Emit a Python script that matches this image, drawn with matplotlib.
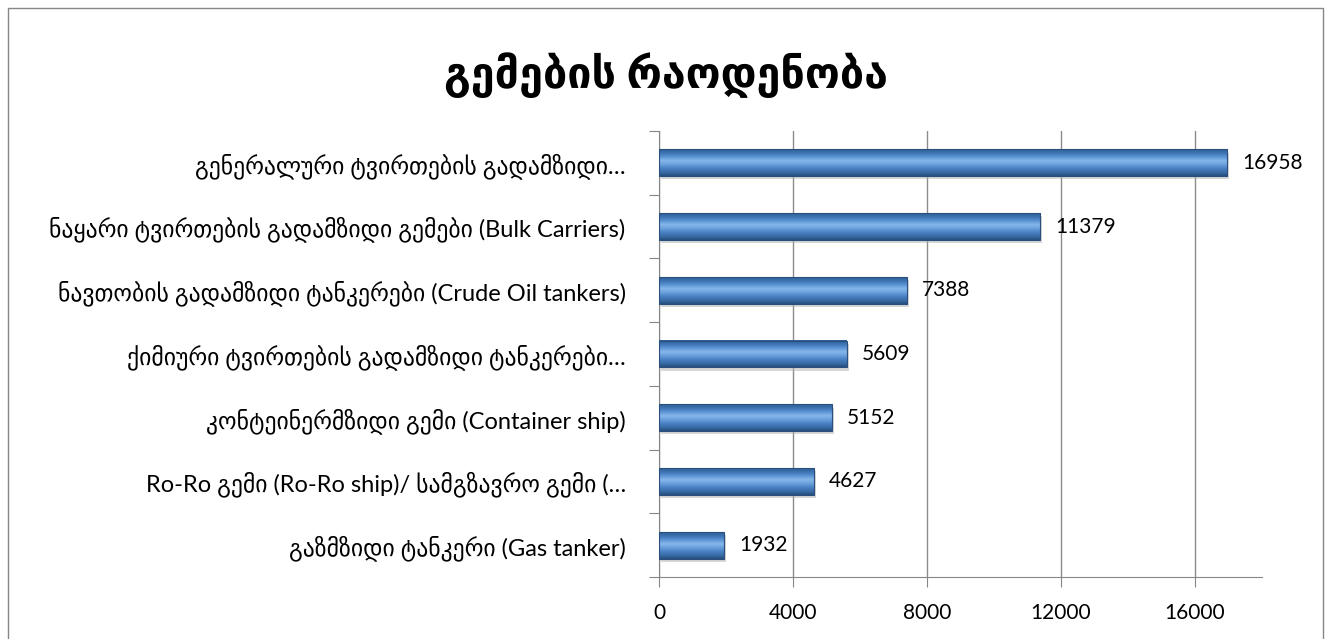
import numpy as np
import matplotlib
matplotlib.use("Agg")
import matplotlib.pyplot as plt
from matplotlib.colors import LinearSegmentedColormap
from matplotlib.patches import Rectangle

# Lato for latin text, DejaVu Sans picks up the Georgian glyphs
plt.rcParams['font.family'] = ['Lato', 'DejaVu Sans']

title = "გემების რაოდენობა"
categories = [
    "გენერალური ტვირთების გადამზიდი…",
    "ნაყარი ტვირთების გადამზიდი გემები (Bulk Carriers)",
    "ნავთობის გადამზიდი ტანკერები (Crude Oil tankers)",
    "ქიმიური ტვირთების გადამზიდი ტანკერები…",
    "კონტეინერმზიდი გემი (Container ship)",
    "Ro-Ro გემი (Ro-Ro ship)/ სამგზავრო გემი (…",
    "გაზმზიდი ტანკერი (Gas tanker)",
]
values = [16958, 11379, 7388, 5609, 5152, 4627, 1932]
xticks = [0, 4000, 8000, 12000, 16000]

fig = plt.figure(figsize=(13.31, 6.39), dpi=100)
ax = fig.add_axes([0.4951, 0.097, 0.4531, 0.698])

# vertical gradient to mimic the glossy 3D bars (top of image = top of bar)
bar_cmap = LinearSegmentedColormap.from_list(
    "glossy", ["#2f5f96", "#3e74b4", "#5b93d3", "#86b7ea", "#6aa0dc", "#4a82c4", "#3a6ea9", "#27507f"])
grad = np.linspace(0, 1, 64).reshape(-1, 1)

h = 0.42
n = len(categories)
ypos = np.arange(n)[::-1]
for y, v in zip(ypos, values):
    # shadow
    ax.add_patch(Rectangle((60, y - h / 2 - 0.05), v, h, color="#b0b0b0", alpha=0.5, lw=0, zorder=2))
    ax.imshow(grad, extent=[0, v, y - h / 2, y + h / 2], aspect='auto', cmap=bar_cmap,
              origin='upper', zorder=3, interpolation='bilinear')
    ax.add_patch(Rectangle((0, y - h / 2), v, h, fill=False, edgecolor="#2a4f7d", lw=0.8, zorder=4))
    ax.text(v + 450, y, str(v), va='center', ha='left', fontsize=15, color='black', zorder=5)

ax.set_xlim(0, 18000)
ax.set_ylim(-0.5, n - 0.5)
ax.set_xticks(xticks)
ax.set_xticklabels([str(t) for t in xticks], fontsize=15)
ax.set_yticks(np.arange(-0.5, n, 1.0))
ax.set_yticklabels([])
ax.set_yticks(ypos, minor=True)
ax.set_yticklabels(categories, minor=True, fontsize=17)
ax.tick_params(axis='y', which='minor', length=0, pad=24)
ax.tick_params(axis='y', which='major', length=7, color='#868686', direction='out')
ax.tick_params(axis='x', length=7, color='#868686', direction='out', pad=12)

ax.grid(axis='x', color='#8c8c8c', lw=1, zorder=0)
ax.set_axisbelow(True)
for s in ['top', 'right']:
    ax.spines[s].set_visible(False)
ax.spines['left'].set_color('#868686')
ax.spines['bottom'].set_color('#868686')

fig.text(0.5, 0.883, title, ha='center', va='center', fontsize=31, fontweight='bold')

# outer chart border
fig.add_artist(Rectangle((0.006, -0.01), 0.988, 0.997, transform=fig.transFigure,
                         fill=False, edgecolor='#868686', lw=1))

fig.savefig("out.png", dpi=100)
